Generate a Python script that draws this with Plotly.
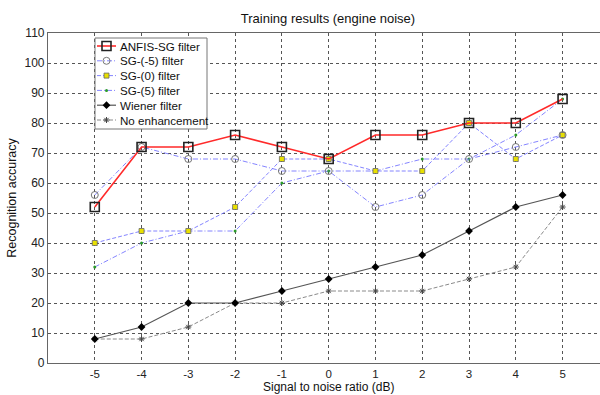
import plotly.graph_objects as go

snr = [-5, -4, -3, -2, -1, 0, 1, 2, 3, 4, 5]
anfis_sg = [52, 72, 72, 76, 72, 68, 76, 76, 80, 80, 88]
sg_m5 = [56, 72, 68, 68, 64, 64, 52, 56, 68, 72, 76]
sg_0 = [40, 44, 44, 52, 68, 68, 64, 64, 80, 68, 76]
sg_5 = [32, 40, 44, 44, 60, 64, 64, 68, 68, 76, 88]
wiener = [8, 12, 20, 20, 24, 28, 32, 36, 44, 52, 56]
no_enh = [8, 8, 12, 20, 20, 24, 24, 24, 28, 32, 52]
y_ticks = list(range(0, 111, 10))

FONT = "Liberation Sans, Arial, sans-serif"
BLUE = "rgba(110,110,255,0.85)"
DASH = "4px,2px"
DASHDOT = "5px,2px,1px,2px"

# figure geometry (pixels)
W, H = 600, 395
L, R, T, B = 48, 600, 33, 363

series = [
    dict(name="ANFIS-SG filter", y=anfis_sg,
         line=dict(color="#ff2a2a", width=1.6),
         marker=dict(symbol="square-open", size=9, color="#222",
                     line=dict(color="#222", width=1.6))),
    dict(name="SG-(-5) filter", y=sg_m5,
         line=dict(color=BLUE, width=1, dash=DASHDOT),
         marker=dict(symbol="circle-open", size=7, color="#777",
                     line=dict(color="#777", width=1))),
    dict(name="SG-(0) filter", y=sg_0,
         line=dict(color=BLUE, width=1, dash=DASH),
         marker=dict(symbol="square", size=5, color="#e8e000",
                     line=dict(color="#666", width=0.8))),
    dict(name="SG-(5) filter", y=sg_5,
         line=dict(color=BLUE, width=1, dash=DASHDOT),
         marker=dict(symbol="circle", size=3, color="#2a9a2a")),
    dict(name="Wiener filter", y=wiener,
         line=dict(color="#555", width=1.2),
         marker=dict(symbol="diamond", size=6, color="black")),
    dict(name="No enhancement", y=no_enh,
         line=dict(color="#8a8a8a", width=1, dash=DASH),
         marker=dict(symbol="asterisk", size=5, color="#444",
                     line=dict(color="#444", width=1))),
]

fig = go.Figure()

# data series (drawn bottom-up so the ANFIS curve sits on top)
for s in reversed(series):
    fig.add_trace(go.Scatter(
        x=snr, y=s["y"], name=s["name"], mode="lines+markers",
        line=s["line"], marker=s["marker"], showlegend=False,
    ))

# compact boxed legend, drawn on a pixel-unit overlay axis
bx0, bx1, by0, by1 = 95, 207, 38, 129
row0, row_step = 46, 14.8
fig.add_trace(go.Scatter(
    x=[bx0, bx1, bx1, bx0, bx0], y=[by0, by0, by1, by1, by0],
    xaxis="x2", yaxis="y2", mode="lines", fill="toself", fillcolor="white",
    line=dict(color="#777", width=1), showlegend=False, hoverinfo="skip",
))
for i, s in enumerate(series):
    ry = row0 + i * row_step
    fig.add_trace(go.Scatter(
        x=[97, 116], y=[ry, ry], xaxis="x2", yaxis="y2", mode="lines",
        line=s["line"], showlegend=False, hoverinfo="skip",
    ))
    fig.add_trace(go.Scatter(
        x=[106.5], y=[ry], xaxis="x2", yaxis="y2", mode="markers",
        marker=s["marker"], showlegend=False, hoverinfo="skip",
    ))
    fig.add_annotation(x=118, y=ry, xref="x2", yref="y2", text=s["name"],
                       showarrow=False, xanchor="left", yanchor="middle",
                       font=dict(family=FONT, size=11.6, color="#111"))

# x-axis title centred under the full axis span
fig.add_annotation(x=(328 - L) / (R - L), y=-(387 - B) / (B - T),
                   xref="paper", yref="paper", text="Signal to noise ratio (dB)",
                   showarrow=False, xanchor="center", yanchor="middle",
                   font=dict(family=FONT, size=12, color="#111"))

fig.update_layout(
    width=W, height=H,
    margin=dict(l=L, r=W - R, t=T, b=H - B),
    paper_bgcolor="white", plot_bgcolor="white",
    font=dict(family=FONT, size=12, color="#222"),
    title=dict(text="Training results (engine noise)", xref="paper",
               x=(328 - L) / (R - L), xanchor="center",
               y=1 - 18 / H, yanchor="middle",
               font=dict(family=FONT, size=13, color="#111")),
    showlegend=False,
    xaxis=dict(
        range=[-6, 5.8], tickvals=snr, ticktext=[str(v) for v in snr],
        showgrid=True, gridcolor="#555", griddash="dot", gridwidth=1,
        zeroline=False, showline=True, linecolor="#666", linewidth=1.2, mirror=True,
        ticks="", tickfont=dict(size=11.5, color="#222"),
    ),
    yaxis=dict(
        range=[0, 110], tickvals=y_ticks,
        showgrid=True, gridcolor="#555", griddash="dot", gridwidth=1,
        zeroline=False, showline=True, linecolor="#666", linewidth=1.2,
        ticks="", tickfont=dict(size=12, color="#222"),
        title=dict(text="Recognition accuracy", standoff=5,
                   font=dict(size=12.5, color="#111")),
    ),
    xaxis2=dict(overlaying="x", anchor="y2", range=[L, R], visible=False),
    yaxis2=dict(overlaying="y", anchor="x2", range=[B, T], visible=False),
)

fig.write_html("out.html")
